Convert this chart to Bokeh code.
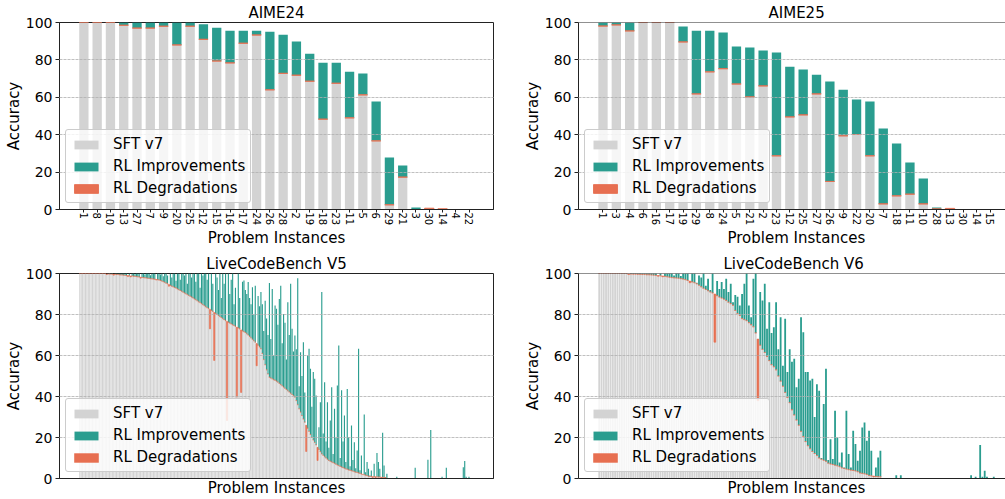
from bokeh.plotting import figure
from bokeh.layouts import column, row
from bokeh.models import Range1d, FixedTicker, Legend, LegendItem, Span, Title
from bokeh.embed import file_html
from bokeh.resources import INLINE

# ---------------- data ----------------
aime24_ids = ["1", "8", "10", "13", "27", "7", "9", "20", "25", "12", "15", "16", "17", "24", "26",
              "28", "2", "19", "18", "23", "11", "5", "6", "29", "21", "3", "30", "14", "4", "22"]
aime24_sft = [100, 100, 100, 98.5, 97, 97, 98, 88, 98, 91, 79.4, 78.4, 88.9, 93.3, 64,
              72.8, 71.8, 68.6, 48.3, 67.5, 49, 61.3, 36.7, 2.5, 17.3, 0, 0.7, 0.4, 0, 0]
aime24_rl = [100, 100, 100, 100, 100, 100, 100, 100, 100, 99, 97.2, 95.6, 95.6, 95.6, 95.1,
             93.5, 89.8, 83.3, 78.5, 78.5, 73.7, 72.7, 57.7, 27.8, 23.5, 1.1, 0, 0, 0, 0]

aime25_ids = ["1", "3", "4", "6", "16", "17", "19", "29", "8", "24", "5", "21", "2", "23", "12",
              "25", "27", "26", "9", "22", "20", "7", "18", "11", "10", "28", "13", "30", "14", "15"]
aime25_sft = [98.1, 98.7, 95.5, 100, 100, 100, 89.6, 61.8, 73.6, 75.3, 67.1, 60.2, 66.1, 28.7, 49.5,
              50.6, 61.8, 15, 39.4, 40.1, 28.7, 3, 7.3, 8.2, 3, 0.3, 0.6, 0, 0, 0]
aime25_rl = [100, 100, 100, 100, 100, 100, 97.8, 95.6, 95.6, 94.6, 87.1, 86.6, 85, 83.9, 76.4,
             74.8, 72.1, 68.4, 64.1, 58.8, 57.7, 43.3, 35.3, 25.1, 16.6, 1.1, 0, 0, 0, 0]

# LiveCodeBench V5 (279 problems, sorted by SFT accuracy)
lcb5_sft = [
    100, 100, 100, 100, 100, 100, 100, 100, 100, 100, 100, 100, 100, 100, 100, 100, 100, 100, 100,
    99.8, 99.8, 99.8, 99.7, 99.7, 99.6, 99.6, 99.5, 99.5, 99.4, 99.3, 99.3, 99.2, 99.1, 99,
    99, 98.9, 98.8, 98.8, 98.7, 98.6, 98.5, 98.4, 98.3, 98.2, 98.1, 98, 97.9, 97.8, 97.7, 97.6,
    97.5, 97.4, 97.3, 97.2, 97.1, 97, 96.8, 96.6,
    96.3, 96, 95.7, 95.3, 95, 94.6, 94.2, 93.8, 93.5, 93.2, 92.9, 92.5,
    92.1, 91.7, 91.3, 90.9, 90.5, 90.1, 89.7, 89.3, 88.9, 88.5, 88.1, 87.6,
    87.2, 86.7, 86.2, 85.8, 85.3, 84.8, 84.3, 83.8, 83.3, 82.9, 82.5, 82,
    81.5, 81, 80.5, 80, 79.5, 79, 78.5, 78, 77.5, 77, 76.6, 76.2,
    75.8, 75.4, 75, 74.6, 74.2, 73.8, 73.4, 73, 72.5, 72, 71.6, 71.2,
    70.6, 70, 69.3, 68.6, 67.9, 67.2, 66.5, 65.8, 65, 64.2, 63.3,
    61, 58, 55.5, 53, 51, 49.4,
    49, 48.6, 48.2, 47.9, 47.5, 47,
    46.4, 45.8, 45.2, 44.6, 44, 43.4, 42.8, 42.2, 41.6, 41, 40.4, 39.7,
    38, 36, 34, 32.4, 30.7,
    29, 27.5, 26, 24.5, 23, 21.5, 20,
    18.8, 17.6, 16.4, 15.2, 14.2, 13.1, 12,
    11.3, 10.6, 10, 9.4, 8.8,
    8.4, 8.1, 7.7, 7.4, 7, 6.6, 6.3, 5.9, 5.6, 5.3, 5, 4.7,
    4.5, 4.2, 4, 3.8, 3.6, 3.3, 3.1,
    2.9, 2.7, 2.5, 2.2, 2, 1.8, 1.6, 1.4, 1.1,
    1, 1, 0.9, 0.9, 0.8, 0.8, 0.7, 0.7, 0.6, 0.6, 0.5, 0.5,
    0, 0, 0, 0, 0, 0, 0, 0, 0, 0, 0, 0, 0, 0, 0, 0, 0, 0, 0, 0, 0,
    0, 0, 0, 0, 0, 0, 0, 0, 0, 0, 0, 0, 0, 0, 0, 0, 0, 0, 0, 0, 0,
    0, 0, 0, 0, 0, 0, 0, 0, 0, 0, 0, 0, 0, 0, 0, 0, 0, 0, 0, 0]
lcb5_rl = [
    100, 100, 100, 100, 100, 100, 100, 100, 100, 100, 100, 100, 100, 100, 100, 100, 100, 100, 100,
    99.5, 100, 100, 100, 100, 99.2, 100, 100, 100, 100, 100, 100, 100, 100, 100,
    98.5, 100, 98.3, 100, 100, 99.6, 100, 100, 100, 97.7, 100, 100, 99.5, 100, 100, 100,
    99.2, 100, 100, 100, 96.8, 100, 100, 99.5,
    100, 98.6, 100, 100, 99, 93.8, 100, 98, 100, 100, 96.5, 100,
    100, 97, 100, 100, 99, 100, 95, 100, 100, 98, 100, 100,
    96, 100, 100, 93, 100, 99, 100, 100, 97, 100, 73, 100,
    95, 57.6, 100, 98, 92, 100, 88, 100, 95, 100, 28.3, 100,
    90, 97, 100, 85, 93, 39.7, 100, 88, 42, 96, 96.6, 92,
    90, 95.8, 88, 85, 93.3, 80, 94, 55, 89, 84, 91,
    85, 72, 86.7, 78, 70, 95.4,
    68, 92.5, 60, 84.4, 82.8, 75,
    87.6, 94, 66, 80.3, 76, 58, 86, 70, 95, 73, 62, 69.8,
    63, 97.7, 45, 61.6, 50,
    66.5, 42, 13.2, 60, 63.3, 53.5, 35,
    51.9, 48.6, 40.5, 8.8, 25, 37.2, 91,
    22, 47, 18, 37.2, 15,
    28.3, 44.5, 12, 34, 20, 45.4, 64.9, 10, 43, 18, 30.7, 8,
    43.7, 20.2, 6, 25.9, 9, 17.7, 5,
    13.7, 63.3, 4, 11.2, 2, 31.2, 3, 8, 4.7,
    1.5, 3.9, 0.5, 7.2, 0.5, 12.5, 8.1, 4.7, 0.4, 22.3, 6.3, 0.3,
    2.3, 0, 0, 0, 0, 0, 0, 0.8, 0, 0, 0, 0, 0, 0, 0, 0, 0, 0, 0, 0, 5.2,
    0, 0, 0, 0, 0, 0, 0, 0, 9.1, 0, 23.7, 0, 0, 0, 0, 0, 0, 0, 0.8, 0, 0,
    5.2, 0, 0, 0, 0, 0, 0, 0, 0, 0, 0, 0, 5.5, 8.5, 0.8, 0, 0.8, 0, 0, 0]

# LiveCodeBench V6 (175 problems, sorted by SFT accuracy)
lcb6_sft = [
    100, 100, 100, 100, 100, 100, 100, 100, 100, 100, 100, 100, 100,
    99.8, 99.8, 99.7, 99.7, 99.6, 99.6, 99.5, 99.5, 99.4, 99.4, 99.3, 99.2, 99.1,
    99, 98.9, 98.8, 98.6, 98.4, 98.2,
    98, 97.9, 97.8, 97.7, 97.5, 97.3, 97,
    96.6, 96.3, 95.9, 95.5,
    95, 94.3, 93.5,
    92.8, 92.2, 91.6, 91, 90.5,
    90, 89.2, 88.5,
    88, 87.5, 86.8, 86,
    85.3, 84.5,
    82, 80.5, 79.5,
    78, 77.5, 77,
    76, 75, 74,
    71, 68,
    65, 63, 61.5,
    59.5, 57.5,
    55.5, 54.5, 53,
    50, 47.5, 45,
    42, 39.5, 37,
    33.5, 31, 28.5, 26,
    23, 20.5,
    18, 16, 14.5,
    13.2, 12.2, 11.2,
    10, 9.4, 8.9, 8.4,
    7.5, 7.1, 6.8, 6.5, 6.2, 5.8,
    5.2, 4.9, 4.6, 4.3, 4.1, 3.9, 3.7, 3.3,
    2.7, 2.5, 2.3, 2,
    1.5, 1.3, 1.2, 1, 0.9, 0.8,
    0, 0, 0, 0, 0, 0, 0, 0, 0, 0, 0, 0, 0, 0, 0, 0, 0, 0, 0, 0, 0, 0, 0, 0, 0,
    0, 0, 0, 0, 0, 0, 0, 0, 0, 0, 0, 0, 0, 0, 0, 0, 0, 0, 0, 0, 0, 0, 0, 0, 0]
lcb6_rl = [
    100, 100, 100, 100, 100, 100, 100, 100, 100, 100, 100, 100, 100,
    99.5, 100, 100, 100, 100, 100, 100, 100, 100, 100, 100, 100, 100,
    98.7, 100, 98.4, 100, 100, 100,
    100, 99, 100, 100, 98.8, 100, 100,
    100, 95.5, 100, 100,
    95.5, 99, 98,
    100, 94, 97.4, 92, 100,
    66.5, 96.3, 92.5,
    95.8, 92.5, 97.4, 91,
    95, 86,
    89.5, 88.6, 84.4,
    90, 95, 100,
    84.4, 78.7, 97.4,
    100, 38,
    91, 86.8, 95,
    73, 86,
    71, 73.8, 86,
    63, 78.7, 55,
    77.9, 52, 63,
    57, 58.4, 44.5, 48.6,
    78.7, 71.4,
    52, 52, 47.8,
    48.6, 30, 46,
    42.8, 10, 36.3, 53.5,
    9, 19.2, 9.5, 33, 20, 7.8,
    12.7, 5.4, 33, 11.9, 5.4, 23.3, 16.8, 8.6,
    13.5, 24.9, 27.3, 18.4,
    23.3, 13.5, 0.8, 5.4, 10.2, 13.5,
    0, 0, 0, 0, 0, 0, 1.6, 0, 1.6, 0, 0, 0, 0, 0, 0, 0, 0, 0, 0, 0, 0, 0, 0, 0, 0,
    0, 0, 0, 0, 0, 0, 0, 0, 0, 0, 0, 0, 0, 0, 1.6, 0, 0.8, 0, 16.4, 0.8, 3.8, 0.8, 0, 0, 0.8]

assert len(lcb5_sft) == 279 and len(lcb5_rl) == 279, (len(lcb5_sft), len(lcb5_rl))
assert len(lcb6_sft) == 175 and len(lcb6_rl) == 175, (len(lcb6_sft), len(lcb6_rl))

GRAY = "#d3d3d3"
TEAL = "#2a9d8f"
ORANGE = "#e76f51"
FONT = "DejaVu Sans"
SPINE = "#222222"


def make_panel(title, sft, rl, ids, width, height, b_left, b_right, b_top, b_bottom,
               full_w, bar_w, right_cut, title_off, xlab_off, edge_w):
    n = len(sft)
    xs = list(range(n))
    margin = 0.05 * (n - 1 + bar_w)
    x0 = -bar_w / 2 - margin
    x1 = n - 1 + bar_w / 2 + margin
    if right_cut:
        frame_w = width - b_left - b_right
        x1 = x0 + (x1 - x0) * frame_w / full_w
    p = figure(width=width, height=height, output_backend="svg", toolbar_location=None,
               x_range=Range1d(x0, x1), y_range=Range1d(0, 100),
               min_border_left=b_left, min_border_right=b_right,
               min_border_top=b_top, min_border_bottom=b_bottom)
    p.title.text = title
    p.title.align = "center" if title_off is None else "left"
    if title_off is not None:
        p.title.offset = title_off
    p.title.text_font = FONT
    p.title.text_font_size = "15px"
    p.title.text_font_style = "normal"
    p.title.text_color = "#000000"
    p.title.standoff = 2

    g = p.vbar(x=xs, top=sft, bottom=0, width=bar_w, fill_color=GRAY, line_color=None)
    imp_t = [max(s, r) for s, r in zip(sft, rl)]
    t = p.vbar(x=xs, top=imp_t, bottom=sft, width=bar_w, fill_color=TEAL, line_color=None)
    ox = [x for x, s in zip(xs, sft) if s > 0]
    ot = [s for s in sft if s > 0]
    ob = [min(s, r) for s, r in zip(sft, rl) if s > 0]
    o = p.vbar(x=ox, top=ot, bottom=ob, width=bar_w, fill_color=ORANGE,
               line_color=ORANGE, line_width=edge_w)

    p.ygrid.ticker = FixedTicker(ticks=[20, 40, 60, 80])
    p.ygrid.grid_line_color = "#b0b0b0"
    p.ygrid.grid_line_dash = [3, 1]
    p.ygrid.grid_line_alpha = 0.8
    p.ygrid.level = "guide"
    p.xgrid.grid_line_color = None

    p.yaxis.ticker = FixedTicker(ticks=[0, 20, 40, 60, 80, 100])
    p.yaxis.axis_label = "Accuracy"
    for ax in (p.xaxis[0], p.yaxis[0]):
        ax.axis_line_color = SPINE
        ax.major_tick_line_color = SPINE
        ax.major_tick_out = 4
        ax.major_tick_in = 0
        ax.minor_tick_line_color = None
        ax.axis_label_text_font = FONT
        ax.axis_label_text_font_size = "15px"
        ax.axis_label_text_font_style = "normal"
        ax.axis_label_text_color = "#000000"
        ax.major_label_text_font = FONT
        ax.major_label_text_color = "#000000"
    p.yaxis.major_label_text_font_size = "14px"
    p.yaxis.major_label_standoff = 3
    p.yaxis.axis_label_standoff = 0
    if ids is not None:
        p.xaxis.ticker = FixedTicker(ticks=xs)
        p.xaxis.major_label_overrides = {i: s for i, s in enumerate(ids)}
        p.xaxis.major_label_orientation = "vertical"
        p.xaxis.major_label_text_font_size = "10px"
        p.xaxis.major_label_standoff = 0
        p.xaxis.major_tick_out = 3
    else:
        p.xaxis.ticker = FixedTicker(ticks=[])
        p.xaxis.major_label_text_font_size = "0px"
        p.xaxis.major_tick_out = 0
        p.xaxis.major_label_standoff = 0

    xl = Title(text="Problem Instances", text_font=FONT, text_font_size="15px",
               text_font_style="normal", text_color="#000000", standoff=0,
               vertical_align="top",
               align="center" if xlab_off is None else "left",
               offset=0 if xlab_off is None else xlab_off)
    p.add_layout(xl, "below")

    if right_cut:
        p.outline_line_color = None
        p.add_layout(Span(location=100, dimension="width", line_color=SPINE, line_width=1.2))
    else:
        p.outline_line_color = SPINE
        p.outline_line_width = 1

    leg = Legend(items=[LegendItem(label="SFT v7", renderers=[g]),
                        LegendItem(label="RL Improvements", renderers=[t]),
                        LegendItem(label="RL Degradations", renderers=[o])],
                 location="bottom_left")
    leg.label_text_font = FONT
    leg.label_text_font_size = "15px"
    leg.label_text_color = "#000000"
    leg.glyph_width = 30
    leg.glyph_height = 11
    leg.label_height = 18
    leg.spacing = 4
    leg.padding = 5
    leg.margin = 6
    leg.label_standoff = 12
    leg.border_line_color = "#cccccc"
    leg.border_line_alpha = 1
    leg.background_fill_alpha = 0.8
    leg.border_radius = 3
    p.add_layout(leg, "center")
    p.background_fill_color = "white"
    p.border_fill_color = "white"
    return p


p1 = make_panel("AIME24", aime24_sft, aime24_rl, aime24_ids, 505, 250, 59, 12, 22, 41,
                None, 0.7, False, None, None, 0.9)
p2 = make_panel("AIME25", aime25_sft, aime25_rl, aime25_ids, 500, 250, 73, 0, 22, 41,
                436, 0.7, True, 190, 149, 0.9)
p3 = make_panel("LiveCodeBench V5", lcb5_sft, lcb5_rl, None, 505, 249, 59, 12, 23, 21,
                None, 0.8, False, None, None, 0.6)
p4 = make_panel("LiveCodeBench V6", lcb6_sft, lcb6_rl, None, 500, 249, 73, 0, 23, 21,
                436, 0.8, True, 145, 149, 0.6)

layout = column(row(p1, p2), row(p3, p4))
open("out.html", "w").write(file_html(layout, INLINE))
